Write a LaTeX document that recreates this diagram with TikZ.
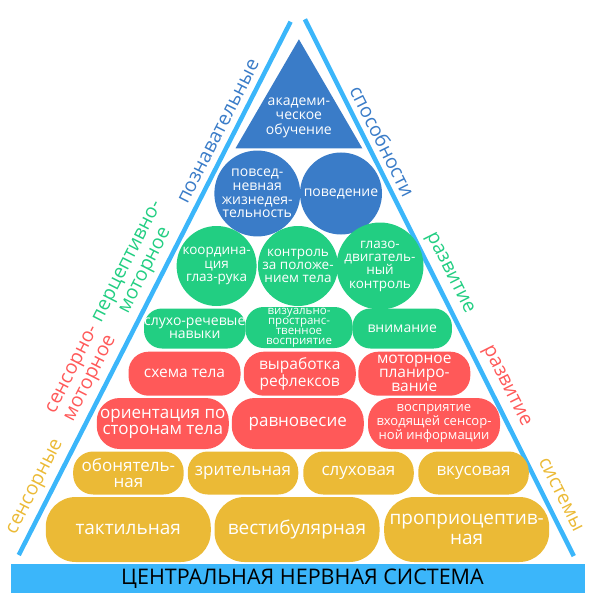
\documentclass[tikz,border=0pt]{standalone}
\usepackage{fontspec}
\setmainfont{Open Sans}
\usetikzlibrary{calc}
\definecolor{cblue}{RGB}{58,124,200}
\definecolor{cgreen}{RGB}{34,206,130}
\definecolor{cred}{RGB}{255,89,89}
\definecolor{cyellow}{RGB}{235,186,54}
\definecolor{cline}{RGB}{59,182,250}
\begin{document}
\begin{tikzpicture}[x=1pt,y=-1pt,
  blk/.style={text=white, align=center, inner sep=0pt},
  circB/.style={blk, circle, fill=cblue, minimum size=82pt, font=\fontsize{14}{13.6}\selectfont},
  circG/.style={blk, circle, fill=cgreen, minimum size=80pt, font=\fontsize{13.5}{13.3}\selectfont},
  pillG/.style={blk, fill=cgreen, rounded corners=18pt, minimum height=40pt, font=\fontsize{14}{12.5}\selectfont},
  pillRa/.style={blk, fill=cred, rounded corners=20pt, minimum width=112pt, minimum height=44pt, font=\fontsize{15.5}{14}\selectfont},
  pillRb/.style={blk, fill=cred, rounded corners=23pt, minimum width=132pt, minimum height=51pt, font=\fontsize{17}{16}\selectfont},
  pillYa/.style={blk, fill=cyellow, rounded corners=20pt, minimum width=110.5pt, minimum height=43pt, font=\fontsize{17}{16.5}\selectfont},
  pillYb/.style={blk, fill=cyellow, rounded corners=30pt, minimum width=165pt, minimum height=65pt, font=\fontsize{19}{20}\selectfont},
  edge/.style={draw=cline, line width=4.5pt},
  lab/.style={inner sep=0pt, align=center, font=\fontsize{19.5}{20}\selectfont},
  bar/.style={fill=cline, inner sep=0pt, minimum width=573.75pt, minimum height=28.4pt},
  bartext/.style={inner sep=0pt, text=black, font=\fontsize{21.5}{22}\selectfont}
]
\useasboundingbox (0,0) rectangle (588,612);

% pyramid side lines
\coordinate (LT) at (290.6,21.7);
\coordinate (LB) at (18.75,555);
\coordinate (RT) at (304.9,19.3);
\coordinate (RB) at (573.75,556);
\draw[edge] (LT) -- (LB);
\draw[edge] (RT) -- (RB);

% apex triangle
\coordinate (A1) at (298.9,39.3);
\coordinate (A2) at (235.5,148.3);
\coordinate (A3) at (362.3,148.3);
\fill[cblue] (A1) -- (A2) -- (A3) -- cycle;
\node[blk, font=\fontsize{14}{14.5}\selectfont] (apex) at (298.9,117.5) {академи-\\ческое\\обучение};

% blue circles
\node[circB] (b1) at (257.3,193.5) {повсед-\\невная\\жизнедея-\\тельность};
\node[circB] (b2) at (341,193.5) {поведение};

% green circles
\node[circG] (g1) at (216.6,266) {координа-\\ция\\глаз-рука};
\node[circG] (g2) at (298,266) {контроль\\за положе-\\нием тела};
\node[circG] (g3) at (380,266) {глазо-\\двигатель-\\ный\\контроль};

% green pills
\node[pillG, minimum width=101.6pt] (g4) at (194.8,328.5) {слухо-речевые\\навыки};
\node[pillG, minimum width=107pt, minimum height=41pt, font=\fontsize{11.5}{10}\selectfont] (g5) at (299,327.5) {визуально-\\пространс-\\твенное\\восприятие};
\node[pillG, minimum width=99.5pt] (g6) at (402.2,328.5) {внимание};

% red row 1
\node[pillRa] (r1) at (184.5,373.7) {схема тела};
\node[pillRa] (r2) at (299.75,373.7) {выработка\\рефлексов};
\node[pillRa] (r3) at (414.3,373.7) {моторное\\планиро-\\вание};

% red row 2
\node[pillRb] (r4) at (162.75,423.5) {ориентация по\\сторонам тела};
\node[pillRb] (r5) at (297.75,423.5) {равновесие};
\node[pillRb, font=\fontsize{13}{12.5}\selectfont] (r6) at (434,423.5) {восприятие\\входящей сенсор-\\ной информации};

% yellow row 1
\node[pillYa] (y1) at (128.4,473) {обонятель-\\ная};
\node[pillYa] (y2) at (243,473) {зрительная};
\node[pillYa] (y3) at (358.5,473) {слуховая};
\node[pillYa] (y4) at (473.5,473) {вкусовая};

% yellow row 2
\node[pillYb] (y5) at (128.25,529.5) {тактильная};
\node[pillYb] (y6) at (297,529.5) {вестибулярная};
\node[pillYb] (y7) at (466.7,529.5) {проприоцептив-\\ная};

% base bar
\node[bar] (cns) at (298.1,578.5) {};
\node[bartext] (cnst) at (302.5,578.5) {ЦЕНТРАЛЬНАЯ НЕРВНАЯ СИСТЕМА};

% side labels, left
\node[lab, text=cblue, rotate=63] (lp) at ($(LT)!0.218!(LB)!14pt!-90:(LB)$) {познавательные};
\node[lab, text=cgreen, rotate=63] (lg) at ($(LT)!0.481!(LB)!25pt!-90:(LB)$) {перцептивно-\\моторное};
\node[lab, text=cred, rotate=63] (lr) at ($(LT)!0.683!(LB)!25pt!-90:(LB)$) {сенсорно-\\моторное};
\node[lab, text=cyellow, rotate=63] (ly) at ($(LT)!0.886!(LB)!15pt!-90:(LB)$) {сенсорные};

% side labels, right
\node[lab, text=cblue, rotate=-63.4] (rp) at ($(RT)!0.2395!(RB)!15pt!90:(RB)$) {способности};
\node[lab, text=cgreen, rotate=-63.4] (rg) at ($(RT)!0.486!(RB)!15pt!90:(RB)$) {развитие};
\node[lab, text=cred, rotate=-63.4] (rr) at ($(RT)!0.697!(RB)!15pt!90:(RB)$) {развитие};
\node[lab, text=cyellow, rotate=-63.4] (ry) at ($(RT)!0.899!(RB)!16pt!90:(RB)$) {системы};
\end{tikzpicture}
\end{document}
